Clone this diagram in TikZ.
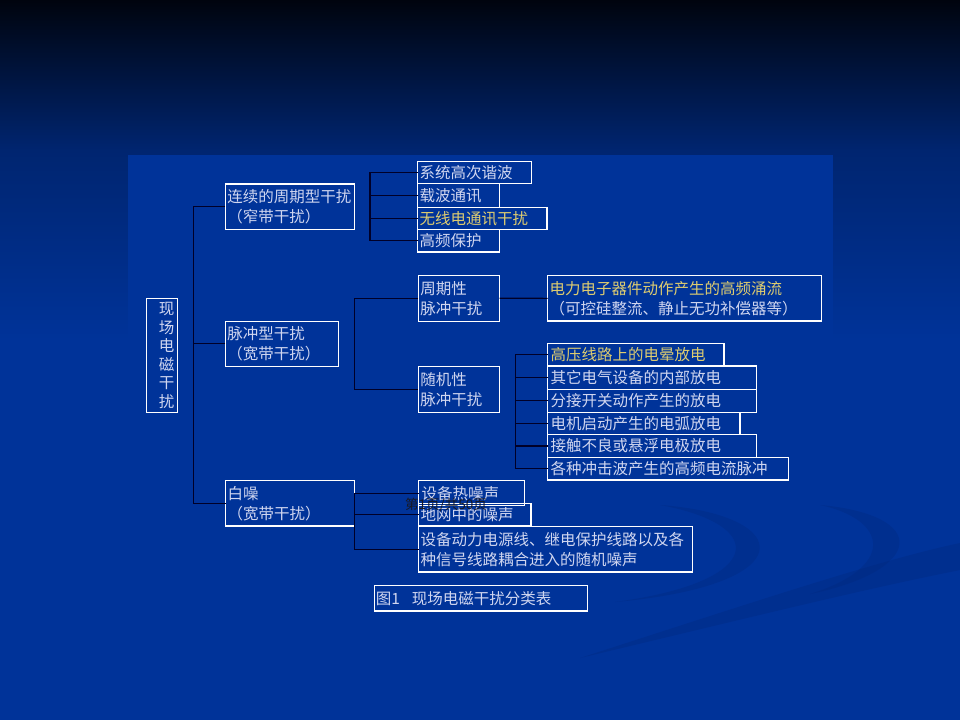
\documentclass[tikz,border=0pt]{standalone}
\usepackage{fontspec}
\setmainfont{Noto Sans CJK SC}
\definecolor{bgtop}{RGB}{0,4,14}
\definecolor{bgmid}{RGB}{0,37,112}
\definecolor{bgblue}{RGB}{0,51,153}
\definecolor{swooshc}{RGB}{0,40,125}
\definecolor{txt}{RGB}{208,214,240}
\definecolor{goldc}{RGB}{222,204,112}
\definecolor{lncol}{RGB}{0,0,40}
\definecolor{footc}{RGB}{25,25,35}
\newcommand\fs{\fontsize{15.5}{20}\selectfont}
\tikzset{
  box/.style={draw=white, line width=1.1pt, anchor=north west, inner xsep=2pt,
    inner ysep=0pt, outer sep=0pt, align=left, text=txt, font=\fs},
  conn/.style={draw=lncol, line width=1.2pt},
  swoosh/.style={fill=swooshc, opacity=0.35},
}
\begin{document}
\begin{tikzpicture}[x=1pt,y=-1pt]
\useasboundingbox (0,0) rectangle (960,720);
% background
\fill[bgblue] (0,0) rectangle (960,720);
\shade[top color=bgtop, bottom color=bgmid] (0,0) rectangle (960,150.5);
\shade[top color=bgmid, bottom color=bgblue] (0,150) rectangle (960,340);
\fill[bgblue] (128,155) rectangle (833,720);
% swooshes
\fill[swoosh] (660,505) .. controls (795,515) and (805,585) .. (615,602)
  .. controls (765,582) and (770,525) .. (660,505);
\fill[swoosh] (820,505) .. controls (930,515) and (925,570) .. (810,594)
  .. controls (895,568) and (890,520) .. (820,505);
\fill[swoosh] (580,658) .. controls (760,600) and (880,560) .. (960,543)
  -- (960,570) .. controls (860,590) and (760,615) .. (580,658);

% root
\node[draw=white, line width=1.1pt, minimum width=31.6pt, minimum height=114pt,
  inner sep=0pt, anchor=north west] (root) at (145.7,298.3) {};
\node[text=txt, align=center, font=\fontsize{15.5}{18.5}\selectfont, inner sep=0pt]
  (roott) at (166.5,355.3) {现\\场\\电\\磁\\干\\扰};

% level 1
\node[box, text width=125pt, minimum height=45.3pt] (A) at (225.3,184) {连续的周期型干扰\\（窄带干扰）};
\node[box, text width=109.4pt, minimum height=45pt] (B) at (225.3,321.3) {脉冲型干扰\\（宽带干扰）};
\node[box, text width=124.6pt, minimum height=45.3pt] (C) at (225.7,480.7) {白噪\\（宽带干扰）};

% A children
\node[box, text width=110pt, minimum height=21.6pt] (a1) at (417.7,161.7) {系统高次谐波};
\node[box, text width=77.6pt, minimum height=24pt] (a2) at (417.7,183.3) {载波通讯};
\node[box, text width=125.3pt, minimum height=22pt, text=goldc] (a3) at (417.7,207.3) {无线电通讯干扰};
\node[box, text width=77.6pt, minimum height=22.7pt] (a4) at (417.7,229.3) {高频保护};

% B children
\node[box, text width=77.4pt, minimum height=46pt] (b1) at (418.3,275.3) {周期性\\脉冲干扰};
\node[box, text width=77.4pt, minimum height=45.6pt] (b2) at (418.3,366.7) {随机性\\脉冲干扰};
\node[box, text width=270pt, minimum height=45.3pt] (p1) at (547.7,275.7)
  {\textcolor{goldc}{电力电子器件动作产生的高频涌流}\\（可控硅整流、静止无功补偿器等）};

\node[box, text width=170.3pt, minimum height=22.3pt, text=goldc, inner xsep=3pt] (r1) at (547.7,343.7) {高压线路上的电晕放电};
\node[box, text width=203pt, minimum height=23.3pt, inner xsep=3pt] (r2) at (547.7,366) {其它电气设备的内部放电};
\node[box, text width=203pt, minimum height=23pt, inner xsep=3pt] (r3) at (547.7,389.3) {分接开关动作产生的放电};
\node[box, text width=186.3pt, minimum height=22.4pt, inner xsep=3pt] (r4) at (547.7,412.3) {电机启动产生的电弧放电};
\node[box, text width=203pt, minimum height=22.6pt, inner xsep=3pt] (r5) at (547.7,434.7) {接触不良或悬浮电极放电};
\node[box, text width=235pt, minimum height=22.7pt, inner xsep=3pt] (r6) at (547.7,457.3) {各种冲击波产生的高频电流脉冲};

% C children
\node[box, text width=99.6pt, minimum height=25pt, inner xsep=3pt] (w1) at (418.7,480.7) {设备热噪声};
\node[box, text width=108.3pt, minimum height=22.7pt] (w2) at (418.7,503.3) {地网中的噪声};
\node[box, text width=270pt, minimum height=45.3pt] (w3) at (418.7,526.7)
  {设备动力电源线、继电保护线路以及各\\种信号线路耦合进入的随机噪声};

% caption
\node[box, text width=210.4pt, minimum height=25.3pt, inner xsep=1.5pt] (cap) at (374.3,585.7)
  {图1\hspace{12pt}现场电磁干扰分类表};

% connectors
\draw[conn] (A.west) -- ++(-32,0) coordinate (ta) |- (C.west);
\draw[conn] (B.west) -- (B.west -| ta);

\draw[conn] (a1.west) -- ++(-47.7,0) coordinate (va) |- (a4.west);
\draw[conn] (a2.west) -- (a2.west -| va);
\draw[conn] (a3.west) -- (a3.west -| va);

\draw[conn] (b1.west) -- ++(-64,0) coordinate (vb) |- (b2.west);
\draw[conn] (b1.east) -- (p1.west);

\draw[conn] (r1.west) -- ++(-32,0) coordinate (vr) |- (r6.west);
\foreach \n in {r2,r3,r4,r5} \draw[conn] (\n.west) -- (\n.west -| vr);

\draw[conn] (w1.west) -- ++(-64.4,0) coordinate (vw) |- (w3.west);
\draw[conn] (w2.west) -- (w2.west -| vw);

% footer
\node[text=footc, font=\fontsize{13.5}{14}\selectfont, inner sep=0pt] (foot) at (446,505) {第1页/共50页};
\end{tikzpicture}
\end{document}
